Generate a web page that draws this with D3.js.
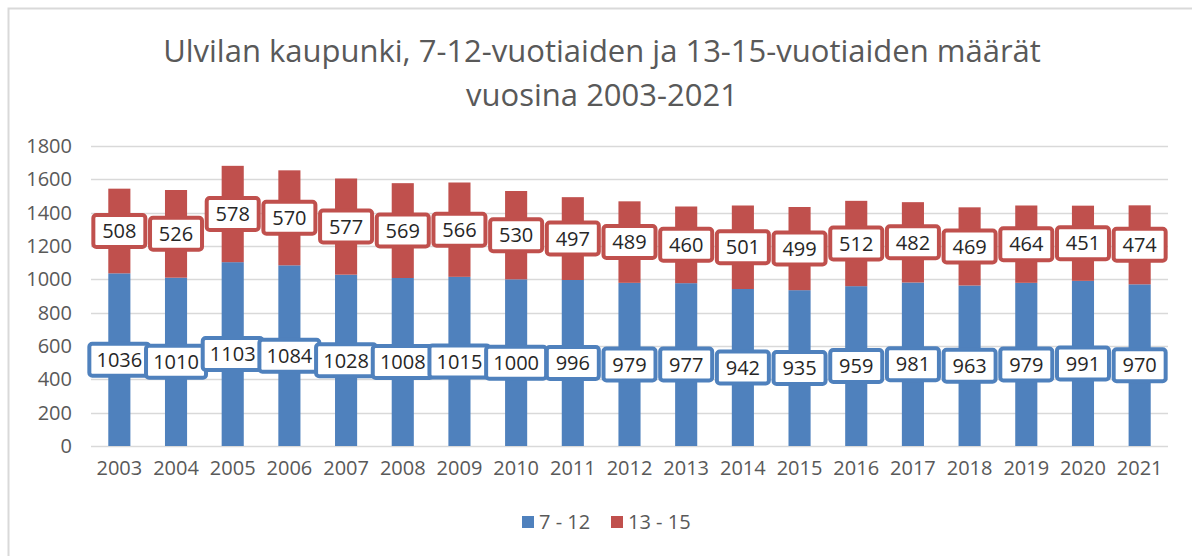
<!DOCTYPE html>
<html>
<head>
<meta charset="utf-8">
<script src="https://cdn.jsdelivr.net/npm/d3@7"></script>
<style>
  body { margin: 0; background: #fff; }
  svg { display: block; font-family: "Open Sans", "Noto Sans", sans-serif; }
</style>
</head>
<body>
<script>
// Ulvila, 7-12 and 13-15 year olds 2003-2021 (stacked columns)

const years = ["2003", "2004", "2005", "2006", "2007", "2008", "2009", "2010", "2011", "2012",
  "2013", "2014", "2015", "2016", "2017", "2018", "2019", "2020", "2021"];
const age7to12 = [1036, 1010, 1103, 1084, 1028, 1008, 1015, 1000, 996, 979,
  977, 942, 935, 959, 981, 963, 979, 991, 970];
const age13to15 = [508, 526, 578, 570, 577, 569, 566, 530, 497, 489,
  460, 501, 499, 512, 482, 469, 464, 451, 474];
const yTicks = [0, 200, 400, 600, 800, 1000, 1200, 1400, 1600, 1800];
const seriesNames = ["7 - 12", "13 - 15"];

const W = 1192, H = 556;
const colors = ["#4f81bd", "#c0504d"];

const svg = d3.select("body").append("svg").attr("width", W).attr("height", H);

// outer frame
svg.append("path")
  .attr("d", `M8.5,${H} L8.5,8.5 L${W},8.5`)
  .attr("fill", "none")
  .attr("stroke", "#d9d9d9")
  .attr("stroke-width", 2);

svg.append("text")
  .attr("x", 602).attr("y", 62)
  .attr("text-anchor", "middle")
  .attr("font-size", "31px")
  .attr("fill", "#595959")
  .text("Ulvilan kaupunki, 7-12-vuotiaiden ja 13-15-vuotiaiden määrät");
svg.append("text")
  .attr("x", 602).attr("y", 106)
  .attr("text-anchor", "middle")
  .attr("font-size", "31px")
  .attr("fill", "#595959")
  .text("vuosina 2003-2021");

const x = d3.scaleBand().domain(years).range([91, 1168]).paddingInner(0.61).paddingOuter(0.305);
const y = d3.scaleLinear().domain([0, 1800]).range([446, 146]);

const grid = svg.append("g");
grid.selectAll("line")
  .data(yTicks)
  .enter()
  .append("line")
  .attr("x1", 91).attr("x2", 1168)
  .attr("y1", (d) => Math.round(y(d)) + 0.5)
  .attr("y2", (d) => Math.round(y(d)) + 0.5)
  .attr("stroke", "#d9d9d9")
  .attr("stroke-width", 1.5);

const yAxis = svg.append("g")
  .attr("transform", "translate(72,0)")
  .call(d3.axisLeft(y).tickValues(yTicks).tickFormat(d3.format("d")).tickSize(0).tickPadding(0));
yAxis.select(".domain").remove();
yAxis.selectAll("text").attr("font-size", "20px").attr("fill", "#595959").attr("font-family", "Open Sans, sans-serif");

const xAxis = svg.append("g")
  .attr("transform", "translate(0,457)")
  .call(d3.axisBottom(x).tickSize(0).tickPadding(0));
xAxis.select(".domain").remove();
xAxis.selectAll("text").attr("font-size", "20px").attr("fill", "#595959").attr("font-family", "Open Sans, sans-serif").attr("dy", "0.9em");

const rows = years.map((yr, i) => ({ yr, a: age7to12[i], b: age13to15[i] }));
const stack = d3.stack().keys(["a", "b"])(rows);

stack.forEach((layer, k) => {
  svg.append("g")
    .selectAll("rect")
    .data(layer)
    .enter()
    .append("rect")
    .attr("x", (d) => x(d.data.yr))
    .attr("width", x.bandwidth())
    .attr("y", (d) => y(d[1]))
    .attr("height", (d) => y(d[0]) - y(d[1]))
    .attr("fill", colors[k]);
});

// data labels, boxed
stack.forEach((layer, k) => {
  const g = svg.append("g")
    .selectAll("g")
    .data(layer)
    .enter()
    .append("g")
    .attr("transform", (d) => `translate(${x(d.data.yr) + x.bandwidth() / 2},${y((d[0] + d[1]) / 2)})`);
  const val = (d) => d[1] - d[0];
  g.append("rect")
    .attr("x", (d) => (val(d) >= 1000 ? -30 : -26))
    .attr("y", -16)
    .attr("width", (d) => (val(d) >= 1000 ? 60 : 52))
    .attr("height", 32)
    .attr("rx", 3)
    .attr("fill", "#fff")
    .attr("stroke", colors[k])
    .attr("stroke-width", 4);
  g.append("text")
    .attr("text-anchor", "middle")
    .attr("dy", "0.36em")
    .attr("font-size", "20px")
    .attr("fill", "#262626")
    .text((d) => val(d));
});

// legend
const legend = svg.append("g").attr("transform", "translate(522,522)");
const items = [{ x: 0, c: colors[0], t: seriesNames[0] }, { x: 89, c: colors[1], t: seriesNames[1] }];
items.forEach((it) => {
  legend.append("rect").attr("x", it.x).attr("y", -6).attr("width", 12).attr("height", 12).attr("fill", it.c);
  legend.append("text").attr("x", it.x + 17).attr("y", 0).attr("dy", "0.36em")
    .attr("font-size", "20px").attr("fill", "#595959").text(it.t);
});
</script>
</body>
</html>
